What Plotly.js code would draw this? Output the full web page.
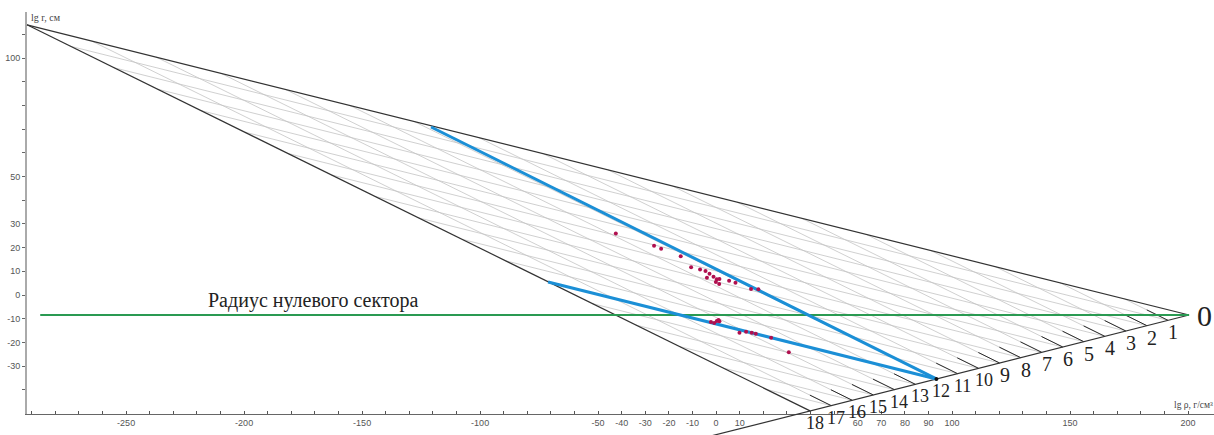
<!DOCTYPE html>
<html><head><meta charset="utf-8">
<script src="https://cdn.plot.ly/plotly-3.0.1.min.js"></script>
<style>html,body{margin:0;padding:0;background:#fff}#chart{width:1214px;height:435px}</style>
</head><body><div id="chart"></div>
<script>
// ---------- data ----------
const apexLeft = [-292, 114.0];          // upper-left vertex of the nomogram
const apexRight = [200.4, -8.45];        // right vertex ("0")
const scaleEnd = [39.8, -48.9];          // scale point 18
const scaleNumbers = [0,1,2,3,4,5,6,7,8,9,10,11,12,13,14,15,16,17,18];
const scaleExtend = 23;                  // scale line continues past 18
const zeroSectorRadius = -8.45;
const zeroSectorStartX = -286.4;
const blueUpperStart = [-120.8, 70.9];
const blueLowerStart = [-71.2, 5.5];
const blueEndScale = 12;

const ptsUpperX = [-42.5,-26.3,-23.3,-15.0,-10.6,-6.8,-4.5,-2.8,-3.9,-1.1,0.3,1.4,-0.1,1.3,5.5,8.2,14.8,17.9];
const ptsUpperY = [26.0,20.8,19.5,16.3,11.7,10.8,10.1,9.0,7.3,7.7,6.6,6.8,5.5,4.6,6.0,5.2,2.5,2.4];
const ptsLowerX = [-2.2,-0.8,0.3,1.0,1.4,9.9,12.7,15.1,16.8,23.3,30.8];
const ptsLowerY = [-11.4,-11.8,-11.0,-10.5,-11.1,-15.9,-15.5,-15.9,-16.3,-18.0,-24.2];

const xLabelled = [-250,-200,-150,-100,-50,-40,-30,-20,-10,0,10,60,70,80,90,100,150,200];
const yLabelled = [100,50,30,20,10,0,-10,-20,-30];

// ---------- layout geometry ----------
const W = 1214, H = 435;
const SX = 2.36, SY = 2.37;              // px per unit
const axLeftPx = 27, axBottomPx = 414, axTopPx = 12;
const xMin = -292, yBottom = -50.21;
const xMax = xMin + (W - axLeftPx) / SX;
const yTop = yBottom + (axBottomPx - axTopPx) / SY;
const x2Min = xMin - axLeftPx / SX, x2Max = xMax;
const y2Min = yBottom - (H - axBottomPx) / SY, y2Max = yTop + axTopPx / SY;

// ---------- helpers ----------
function scalePt(k){ return [apexRight[0] + k/18*(scaleEnd[0]-apexRight[0]), apexRight[1] + k/18*(scaleEnd[1]-apexRight[1])]; }
function intersect(p, d, q, e){ // p + s d = q + t e
  const den = d[0]*e[1]-d[1]*e[0];
  const s = ((q[0]-p[0])*e[1]-(q[1]-p[1])*e[0])/den;
  return [p[0]+s*d[0], p[1]+s*d[1]];
}
const dTop = [apexRight[0]-apexLeft[0], apexRight[1]-apexLeft[1]];
const dLeft = [scaleEnd[0]-apexLeft[0], scaleEnd[1]-apexLeft[1]];

// mesh
const meshX = [], meshY = [], tickX = [], tickY = [];
for (let k = 1; k <= 17; k++){
  const p = scalePt(k);
  const a = intersect(p, dLeft, apexLeft, dTop);
  meshX.push(p[0], a[0], null); meshY.push(p[1], a[1], null);
  const b = intersect(p, dTop, apexLeft, dLeft);
  meshX.push(p[0], b[0], null); meshY.push(p[1], b[1], null);
  const f = 9 / dLeft[0];
  tickX.push(p[0], p[0]-f*dLeft[0], null); tickY.push(p[1], p[1]-f*dLeft[1], null);
}
const pExt = scalePt(scaleExtend), p12 = scalePt(blueEndScale);

const traces = [
  {x:[], y:[], xaxis:'x', yaxis:'y', type:'scatter', mode:'lines', hoverinfo:'skip'},
  {x:meshX, y:meshY, xaxis:'x2', yaxis:'y2', mode:'lines', line:{color:'#c4c4c4', width:0.8}, hoverinfo:'skip'},
  {x:tickX, y:tickY, xaxis:'x2', yaxis:'y2', mode:'lines', line:{color:'#2b2b2b', width:1}, hoverinfo:'skip'},
  {x:[apexLeft[0], apexRight[0]], y:[apexLeft[1], apexRight[1]], xaxis:'x2', yaxis:'y2', mode:'lines', line:{color:'#333', width:1.2}},
  {x:[apexLeft[0], scaleEnd[0]], y:[apexLeft[1], scaleEnd[1]], xaxis:'x2', yaxis:'y2', mode:'lines', line:{color:'#333', width:1.2}},
  {x:[apexRight[0], pExt[0]], y:[apexRight[1], pExt[1]], xaxis:'x2', yaxis:'y2', mode:'lines', line:{color:'#333', width:1.2}},
  {x:[zeroSectorStartX, apexRight[0]], y:[zeroSectorRadius, zeroSectorRadius], xaxis:'x2', yaxis:'y2', mode:'lines', line:{color:'#2a9a52', width:2}},
  {x:[blueUpperStart[0], p12[0]], y:[blueUpperStart[1], p12[1]], xaxis:'x2', yaxis:'y2', mode:'lines', line:{color:'#1b8fd6', width:3}},
  {x:[blueLowerStart[0], p12[0]], y:[blueLowerStart[1], p12[1]], xaxis:'x2', yaxis:'y2', mode:'lines', line:{color:'#1b8fd6', width:3}},
  {x:[p12[0]], y:[p12[1]], xaxis:'x2', yaxis:'y2', mode:'markers', marker:{color:'#111', size:4}},
  {x:ptsUpperX.concat(ptsLowerX), y:ptsUpperY.concat(ptsLowerY), xaxis:'x2', yaxis:'y2', mode:'markers', marker:{color:'#b0104f', size:4}}
];

const xTickVals = [], xTickText = [];
for (let v = -290; v <= 200; v += 10){ xTickVals.push(v); xTickText.push(xLabelled.includes(v) ? String(v) : ''); }
const yTickVals = [], yTickText = [];
for (let v = -40; v <= 110; v += 10){ yTickVals.push(v); yTickText.push(yLabelled.includes(v) ? String(v) : ''); }

const serif = 'Liberation Serif, Times New Roman, serif';
const annotations = scaleNumbers.map(k => {
  const p = scalePt(k);
  if (k === 0) return {x:p[0], y:p[1], xref:'x2', yref:'y2', text:'0', showarrow:false, xshift:15, yshift:0, font:{family:serif, size:30, color:'#222'}};
  return {x:p[0], y:p[1], xref:'x2', yref:'y2', text:String(k), showarrow:false, xshift:5, yshift:-12, font:{family:serif, size:(k < 10 ? 20 : 18), color:'#222'}};
});
annotations.push({x:-171, y:zeroSectorRadius, xref:'x2', yref:'y2', text:'Радиус нулевого сектора', showarrow:false, yanchor:'bottom', yshift:1, font:{family:serif, size:20, color:'#222'}});
annotations.push({x:axLeftPx/W + 0.002, y:1 - 17/H, xref:'paper', yref:'paper', xanchor:'left', yanchor:'middle', text:'lg r, см', showarrow:false, font:{family:serif, size:10, color:'#444'}});
annotations.push({x:1172/W, y:1 - 405/H, xref:'paper', yref:'paper', xanchor:'left', yanchor:'middle', text:'lg ρ, г/см³', showarrow:false, font:{family:serif, size:9.5, color:'#444'}});

const layout = {
  width:W, height:H, margin:{l:0, r:0, t:0, b:0},
  paper_bgcolor:'#fff', plot_bgcolor:'rgba(0,0,0,0)', showlegend:false,
  xaxis:{domain:[axLeftPx/W, 1], range:[xMin, xMax], anchor:'y', tickmode:'array', tickvals:xTickVals, ticktext:xTickText,
    ticks:'inside', ticklen:3, tickcolor:'#555', showline:true, linecolor:'#666', linewidth:1, showgrid:false, zeroline:false,
    tickfont:{family:'Liberation Sans, Arial, sans-serif', size:9, color:'#555'}},
  yaxis:{domain:[(H-axBottomPx)/H, (H-axTopPx)/H], range:[yBottom, yTop], anchor:'x', tickmode:'array', tickvals:yTickVals, ticktext:yTickText,
    ticks:'outside', ticklen:3, tickcolor:'#666', showline:true, linecolor:'#aaa', linewidth:2, showgrid:false, zeroline:false,
    tickfont:{family:'Liberation Sans, Arial, sans-serif', size:9, color:'#555'}},
  xaxis2:{domain:[0,1], range:[x2Min, x2Max], anchor:'y2', visible:false, fixedrange:true},
  yaxis2:{domain:[0,1], range:[y2Min, y2Max], anchor:'x2', visible:false, fixedrange:true},
  annotations:annotations
};
Plotly.newPlot('chart', traces, layout, {staticPlot:true, displayModeBar:false});
</script></body></html>
